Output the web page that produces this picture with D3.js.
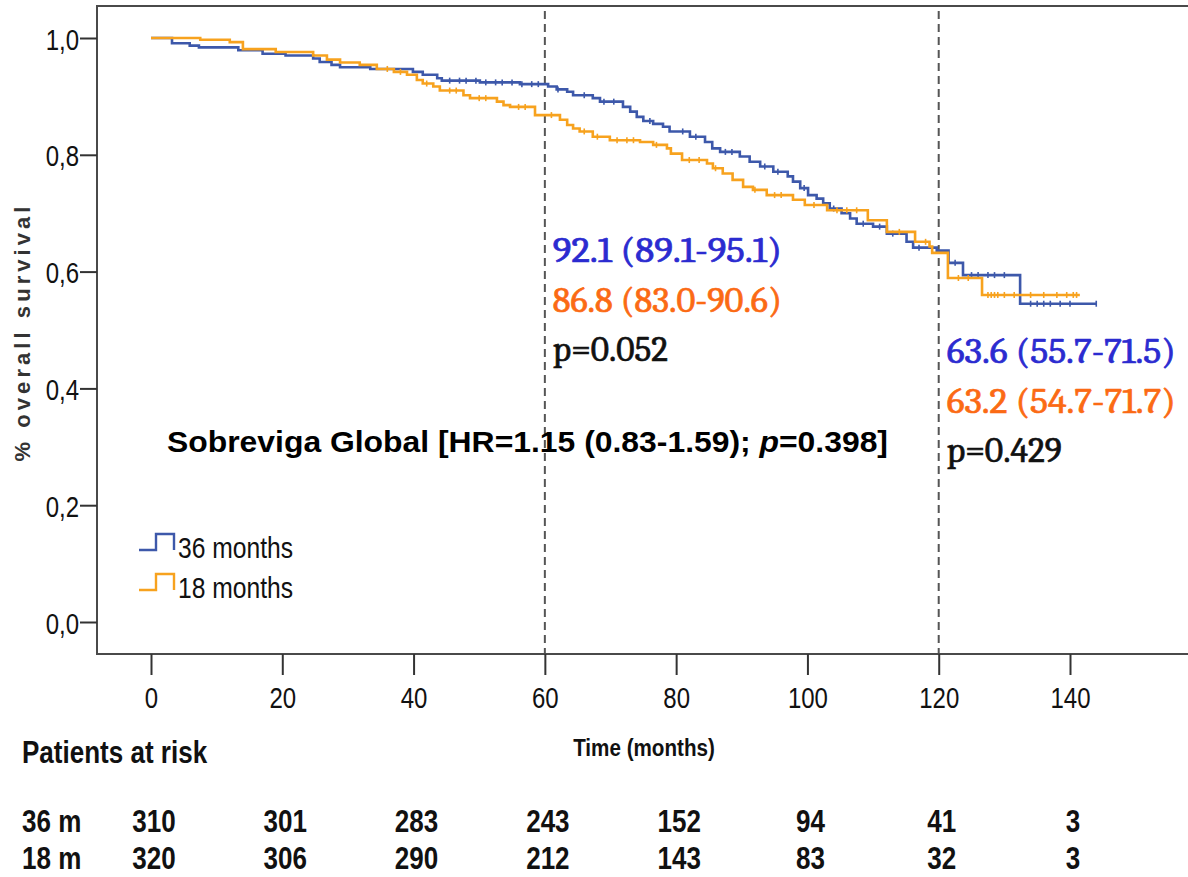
<!DOCTYPE html>
<html>
<head>
<meta charset="utf-8">
<script src="https://cdn.jsdelivr.net/npm/d3@7"></script>
<style>
  body { margin: 0; background: #fff; }
  svg { display: block; }
</style>
</head>
<body>
<svg id="chart" width="1188" height="877"></svg>
<script>
// ---- data -------------------------------------------------------------
const timeTicks = [0, 20, 40, 60, 80, 100, 120, 140];
const survTicks = [0, 0.2, 0.4, 0.6, 0.8, 1.0];
const groups = ["36 months", "18 months"];

// Kaplan-Meier steps: [month, survival after that month]
const steps36 = [
  [0, 1.0], [3.2, 0.991], [5.9, 0.987], [7.3, 0.984], [13.3, 0.979], [17, 0.973],
  [20.5, 0.970], [24.7, 0.965], [25.7, 0.959], [27.5, 0.954], [28.8, 0.950],
  [33.4, 0.947], [39.9, 0.942], [41.4, 0.937], [43.6, 0.931], [44.3, 0.927],
  [50.1, 0.924], [56.2, 0.921], [60.5, 0.917], [61.8, 0.912], [63.4, 0.908],
  [64.3, 0.902], [67.3, 0.897], [68.4, 0.891], [71.9, 0.882], [73, 0.874],
  [74, 0.865], [75, 0.858], [76.5, 0.853], [78, 0.848], [79, 0.840],
  [82.1, 0.831], [84.4, 0.822], [85.5, 0.811], [86.7, 0.805], [89.7, 0.797],
  [91.2, 0.788], [92.8, 0.780], [94.8, 0.771], [97, 0.763], [97.8, 0.754],
  [98.9, 0.743], [100.1, 0.731], [101.4, 0.725], [102.4, 0.717], [103.4, 0.708],
  [105.2, 0.700], [106.5, 0.691], [107.5, 0.682], [110, 0.677], [112.1, 0.665],
  [115.1, 0.651], [116.1, 0.641], [119.7, 0.636], [121.5, 0.615], [123.7, 0.594],
  [132.4, 0.545]
];
const steps18 = [
  [0, 1.0], [7.5, 0.997], [12, 0.993], [14, 0.981], [19, 0.976], [24.7, 0.970],
  [26.8, 0.963], [28.8, 0.958], [31.8, 0.954], [34.4, 0.947], [37, 0.942],
  [39, 0.937], [40.5, 0.928], [41.4, 0.922], [43, 0.917], [44, 0.910],
  [47.6, 0.902], [48.6, 0.897], [52.7, 0.891], [53.7, 0.885], [54.7, 0.882],
  [58.5, 0.868], [62.3, 0.860], [63.4, 0.851], [64.3, 0.845], [65.3, 0.840],
  [67.3, 0.831], [69.9, 0.825], [74.5, 0.822], [76.5, 0.817], [78.6, 0.811],
  [79.2, 0.802], [80.9, 0.791], [84.7, 0.785], [85.6, 0.777], [87.1, 0.768],
  [88.6, 0.757], [90.2, 0.745], [91.7, 0.740], [93.8, 0.731], [97.8, 0.723],
  [99.6, 0.714], [103, 0.705], [109.2, 0.688], [112.1, 0.668], [116.4, 0.651],
  [118.6, 0.643], [119, 0.632], [121.4, 0.589], [126.6, 0.560]
];
const lastFollowUp = [144.1, 141.5];

// censored observations (months)
const censor36 = [45.5, 47, 48, 49.5, 51, 52.5, 53.5, 55, 56.5, 58, 59, 62, 66, 69, 70.5,
  76, 81, 83, 87.5, 88.5, 93.5, 95.5, 99.5, 104, 108.5, 111, 113, 117, 122.5, 125,
  126, 127.5, 128.5, 130, 134, 135, 136, 137, 138.5, 140, 144];
const censor18 = [36, 38, 42, 45.5, 46.5, 50, 51, 56, 57, 61, 66, 68, 71, 72.5, 73.5,
  77, 82, 83.5, 86, 92, 95, 96, 101, 104.5, 106, 107.5, 114, 118, 123, 124.5, 127.5,
  128, 128.5, 129, 130, 131.5, 134, 136, 138, 139.5, 140.5, 141];

const landmarks = [60, 120];
const landmark60 = ["92.1 (89.1-95.1)", "86.8 (83.0-90.6)", "p=0.052"];
const landmark120 = ["63.6 (55.7-71.5)", "63.2 (54.7-71.7)", "p=0.429"];

const riskLabels = ["36 m", "18 m"];
const risk36 = [310, 301, 283, 243, 152, 94, 41, 3];
const risk18 = [320, 306, 290, 212, 143, 83, 32, 3];

// ---- drawing ----------------------------------------------------------
const lineColors = ["#3d58aa", "#f7a21e"];
const textColors = ["#2b2bd0", "#fb6a14", "#111"];
const sans = "'Liberation Sans', Arial, sans-serif";
const serif = "Cambria, 'Liberation Serif', 'Times New Roman', serif";
const SX = 0.8; // horizontal squeeze for the condensed sans labels

const svg = d3.select("#chart");
svg.append("rect").attr("width", 1188).attr("height", 877).attr("fill", "#fff");

const x = d3.scaleLinear().domain([0, 140]).range([151, 1070]);
const y = d3.scaleLinear().domain([0, 1]).range([622, 38]);

const frame = { left: 97, top: 6, bottom: 654, right: 1196 };

// condensed sans text placed at (px, py)
function ctext(parent, px, py, str, size, opts = {}) {
  const t = parent.append("text")
    .attr("transform", `translate(${px},${py}) scale(${opts.sx || SX},1)`)
    .attr("text-anchor", opts.anchor || "start")
    .style("font-family", sans).style("font-size", size + "px")
    .style("font-weight", opts.bold ? "bold" : "normal")
    .attr("fill", "#111")
    .text(str);
  return t;
}

// plot frame
svg.append("path")
  .attr("d", `M${frame.right},${frame.top}H${frame.left}V${frame.bottom}H${frame.right}`)
  .attr("fill", "none").attr("stroke", "#4a4a4a").attr("stroke-width", 2);

// landmark reference lines
svg.append("g").selectAll("line").data(landmarks).join("line")
  .attr("x1", d => x(d)).attr("x2", d => x(d))
  .attr("y1", 11).attr("y2", frame.bottom - 1)
  .attr("stroke", "#555").attr("stroke-width", 2).attr("stroke-dasharray", "8,5");

// axes
const comma = d3.formatLocale({ decimal: ",", thousands: ".", grouping: [3], currency: ["", ""] });
const yAxis = svg.append("g").attr("transform", `translate(${frame.left},0)`)
  .call(d3.axisLeft(y).tickValues(survTicks).tickFormat(comma.format(".1f")).tickSize(17).tickPadding(3));
const xAxis = svg.append("g").attr("transform", `translate(0,${frame.bottom})`)
  .call(d3.axisBottom(x).tickValues(timeTicks).tickFormat(d3.format("d")).tickSize(21).tickPadding(9));
[yAxis, xAxis].forEach(g => {
  g.select(".domain").remove();
  g.selectAll(".tick line").attr("stroke", "#333").attr("stroke-width", 2);
  g.selectAll(".tick text").attr("fill", "#111")
    .style("font-family", sans).style("font-size", "30px");
});
yAxis.selectAll(".tick text")
  .attr("x", null).attr("dy", null)
  .attr("transform", `translate(-18,11) scale(${SX},1)`);
xAxis.selectAll(".tick text")
  .attr("y", null).attr("dy", null)
  .attr("transform", `translate(0,54) scale(${SX},1)`);

// survival curves
const series = [steps36, steps18];
const censors = [censor36, censor18];
const line = d3.line().x(d => x(d[0])).y(d => y(d[1])).curve(d3.curveStepAfter);
const bis = d3.bisector(d => d[0]).right;

series.forEach((s, i) => {
  const pts = s.concat([[lastFollowUp[i], s[s.length - 1][1]]]);
  svg.append("path").datum(pts)
    .attr("d", line)
    .attr("fill", "none").attr("stroke", lineColors[i]).attr("stroke-width", 2.6);
  svg.append("g").selectAll("line").data(censors[i]).join("line")
    .attr("x1", d => x(d)).attr("x2", d => x(d))
    .attr("y1", d => y(s[bis(s, d) - 1][1]) - 3)
    .attr("y2", d => y(s[bis(s, d) - 1][1]) + 3)
    .attr("stroke", lineColors[i]).attr("stroke-width", 1.6);
});

// legend
const legend = svg.append("g");
groups.forEach((g, i) => {
  const ly = 550 + i * 40;
  legend.append("path")
    .attr("d", `M139,${ly}H156V${ly - 16}H174V${ly}`)
    .attr("fill", "none").attr("stroke", lineColors[i]).attr("stroke-width", 2.4);
  ctext(legend, 178, ly + 8, g, 29, { sx: 0.85 });
});

// landmark estimates
const blocks = [
  { at: landmarks[0], lines: landmark60, base: 262 },
  { at: landmarks[1], lines: landmark120, base: 363 }
];
const widths = [229, 229, 115];
blocks.forEach(b => {
  b.lines.forEach((t, j) => {
    svg.append("text")
      .attr("x", x(b.at) + 8).attr("y", b.base + j * 49.5)
      .attr("textLength", widths[j]).attr("lengthAdjust", "spacingAndGlyphs")
      .style("font-family", serif).style("font-size", "36px")
      .attr("fill", textColors[j])
      .attr("stroke", textColors[j]).attr("stroke-width", 0.7)
      .text(t);
  });
});

// hazard ratio summary
const hr = svg.append("text").attr("x", 167).attr("y", 452)
  .attr("textLength", 721).attr("lengthAdjust", "spacingAndGlyphs")
  .style("font-family", sans)
  .style("font-size", "30px").style("font-weight", "bold").attr("fill", "#000");
hr.append("tspan").text("Sobreviga Global [HR=1.15 (0.83-1.59); ");
hr.append("tspan").style("font-style", "italic").text("p");
hr.append("tspan").text("=0.398]");

// axis titles
svg.append("text")
  .attr("transform", "translate(30,334) rotate(-90)")
  .attr("text-anchor", "middle")
  .attr("textLength", 255).attr("lengthAdjust", "spacing")
  .style("font-family", sans)
  .style("font-size", "22px").style("font-weight", "bold")
  .attr("fill", "#333")
  .text("% overall survival");

ctext(svg, 644, 756, "Time (months)", 24, { bold: true, anchor: "middle", sx: 0.86 });

// numbers at risk
const RSX = 0.84;
ctext(svg, 22, 763, "Patients at risk", 31, { bold: true, sx: RSX });

[risk36, risk18].forEach((row, i) => {
  const ry = 832 + i * 37;
  ctext(svg, 22, ry, riskLabels[i], 31, { bold: true, sx: RSX });
  const g = svg.append("g");
  row.forEach((d, k) => {
    ctext(g, x(timeTicks[k]) + 3, ry, String(d), 31, { bold: true, anchor: "middle", sx: RSX });
  });
});
</script>
</body>
</html>
